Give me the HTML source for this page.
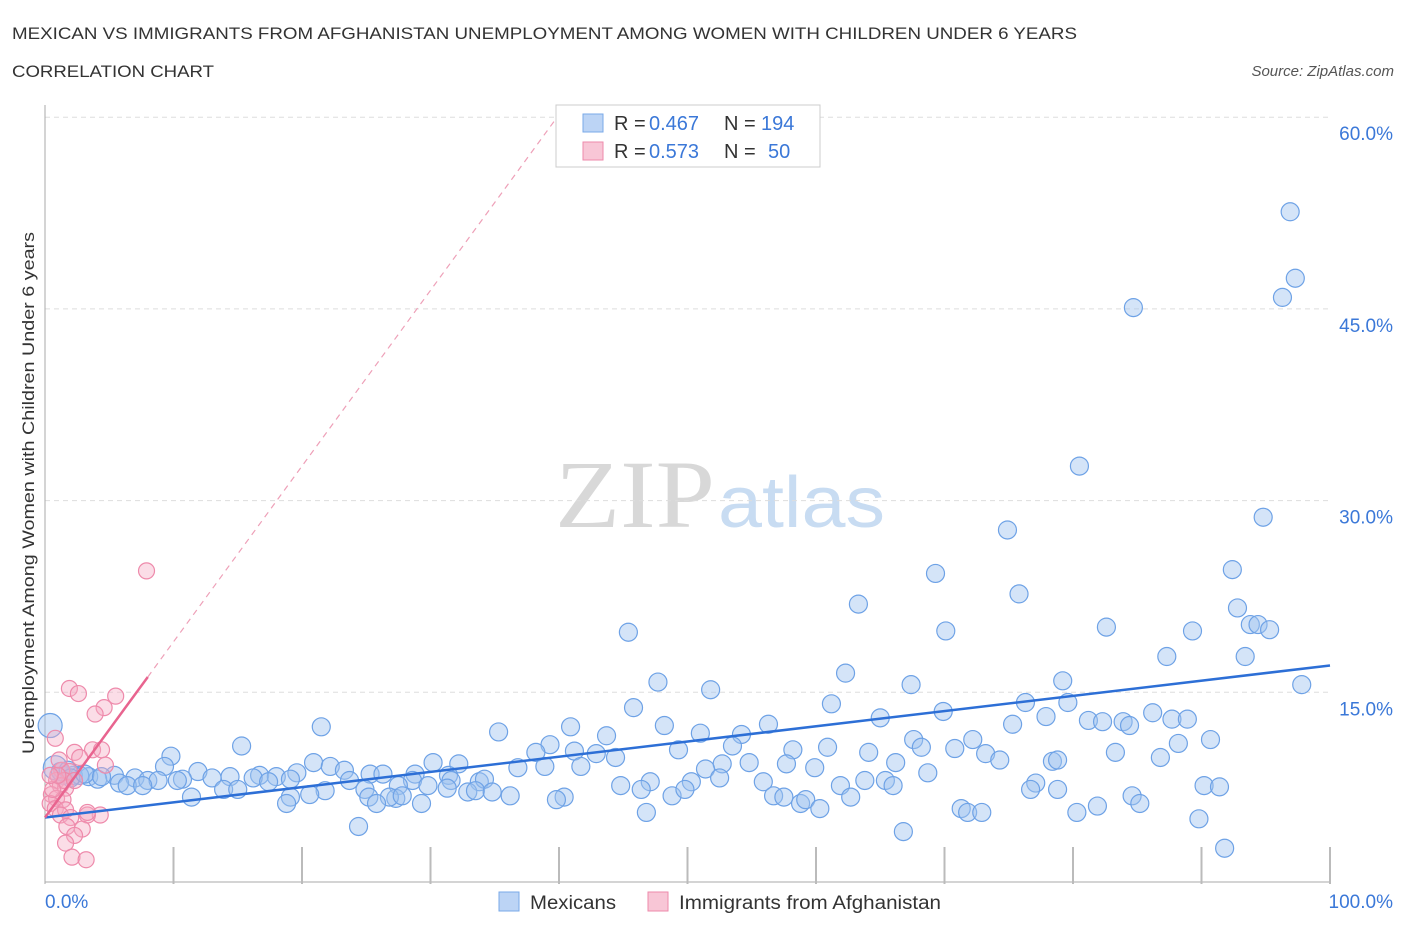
<!DOCTYPE html>
<html><head><meta charset="utf-8"><style>
body{margin:0;background:#fff;font-family:"Liberation Sans",sans-serif;}
svg{display:block}
</style></head><body>
<svg id="c" width="1406" height="930" xmlns="http://www.w3.org/2000/svg">
<text x="12" y="39" font-size="17" fill="#333" textLength="1065" lengthAdjust="spacingAndGlyphs">MEXICAN VS IMMIGRANTS FROM AFGHANISTAN UNEMPLOYMENT AMONG WOMEN WITH CHILDREN UNDER 6 YEARS</text>
<text x="12" y="77" font-size="17" fill="#333" textLength="202" lengthAdjust="spacingAndGlyphs">CORRELATION CHART</text>
<text x="1394" y="76" font-size="15" fill="#555" font-style="italic" text-anchor="end">Source: ZipAtlas.com</text>
<g><text x="555" y="527" font-size="96" font-family="Liberation Serif,serif" fill="#d8d8d8" textLength="160" lengthAdjust="spacingAndGlyphs">ZIP</text><text x="718" y="527" font-size="72" fill="#c8dcf2" textLength="167" lengthAdjust="spacingAndGlyphs">atlas</text></g>
<g id="grid"></g>
<g id="pts"></g>
<g id="lines"></g>
<text transform="translate(34,493) rotate(-90)" font-size="17" fill="#333" text-anchor="middle" textLength="522" lengthAdjust="spacingAndGlyphs">Unemployment Among Women with Children Under 6 years</text>
<g>
<rect x="556" y="105" width="264" height="62" fill="#fff" stroke="#ccc"/>
<rect x="583" y="114" width="20" height="18" fill="#bcd4f5" stroke="#7aaae8"/>
<text x="614" y="130" font-size="20" fill="#333">R =</text><text x="649" y="130" font-size="20" fill="#3b78d8">0.467</text>
<text x="724" y="130" font-size="20" fill="#333">N =</text><text x="761" y="130" font-size="20" fill="#3b78d8">194</text>
<rect x="583" y="142" width="20" height="18" fill="#f8c6d6" stroke="#ee8aab"/>
<text x="614" y="158" font-size="20" fill="#333">R =</text><text x="649" y="158" font-size="20" fill="#3b78d8">0.573</text>
<text x="724" y="158" font-size="20" fill="#333">N =</text><text x="768" y="158" font-size="20" fill="#3b78d8">50</text>
</g>
<g>
<rect x="499" y="892" width="20" height="19" fill="#bcd4f5" stroke="#7aaae8"/>
<text x="530" y="909" font-size="19" fill="#333" textLength="86" lengthAdjust="spacingAndGlyphs">Mexicans</text>
<rect x="648" y="892" width="20" height="19" fill="#f8c6d6" stroke="#ee8aab"/>
<text x="679" y="909" font-size="19" fill="#333" textLength="262" lengthAdjust="spacingAndGlyphs">Immigrants from Afghanistan</text>
</g>
</svg>
<script>
const yTicks=[15,30,45,60];
const xTickLabels=["0.0%","100.0%"];
const blueX=[96.9,97.3,96.3,84.7,80.5,74.9,94.8,69.3,92.4,75.8,63.3,92.8,45.4,70.1,82.6,89.3,93.8,94.4,95.3,87.3,93.4,62.3,47.7,79.2,97.8,51.8,67.4,45.8,61.2,76.3,79.6,69.9,86.2,77.9,65,87.7,88.9,75.3,81.2,82.3,83.9,84.4,48.2,40.9,21.5,35.3,56.3,51,43.7,54.2,67.6,72.2,90.7,39.3,15.3,53.5,88.2,68.2,60.9,70.8,38.2,41.2,42.9,49.3,58.2,64.1,83.3,9.8,44.4,73.2,74.3,78.4,78.8,86.8,52.7,54.8,57.7,66.2,30.2,32.2,20.9,9.3,22.2,36.8,38.9,41.7,59.9,23.3,51.4,11.9,19.6,25.3,26.3,28.8,31.4,68.7,16.7,18,14.4,13,16.2,10.7,7,5.4,3.4,2.2,1.4,2.7,4.1,5.8,8,8.8,10.3,6.4,7.6,17.4,19.1,28.6,23.7,27.5,31.6,33.8,34.2,29.8,31.3,52.5,47.1,50.3,55.9,63.8,65.4,77.1,61.9,44.8,66,90.2,91.4,76.7,78.8,84.6,46.4,13.9,15,21.8,24.9,32.9,33.5,34.8,36.2,19.1,11.4,20.6,25.2,27.3,26.8,27.8,40.4,48.8,49.8,56.7,57.5,62.7,39.8,58.8,18.8,25.8,29.3,59.2,60.3,81.9,85.2,71.3,71.8,72.9,80.3,46.8,24.4,66.8,89.8,91.8,0.4,0.8,1.2,1.8,2,3.1,4.4];
const blueY=[52.6,47.4,45.9,45.1,32.7,27.7,28.7,24.3,24.6,22.7,21.9,21.6,19.7,19.8,20.1,19.8,20.3,20.3,19.9,17.8,17.8,16.5,15.8,15.9,15.6,15.2,15.6,13.8,14.1,14.2,14.2,13.5,13.4,13.1,13,12.9,12.9,12.5,12.8,12.7,12.7,12.4,12.4,12.3,12.3,11.9,12.5,11.8,11.6,11.7,11.3,11.3,11.3,10.9,10.8,10.8,11,10.7,10.7,10.6,10.3,10.4,10.2,10.5,10.5,10.3,10.3,10,9.9,10.2,9.7,9.6,9.7,9.9,9.4,9.5,9.4,9.5,9.5,9.4,9.5,9.2,9.2,9.1,9.2,9.2,9.1,8.9,9,8.8,8.7,8.6,8.6,8.6,8.5,8.7,8.5,8.4,8.4,8.3,8.3,8.2,8.3,8.5,8.4,8.5,8.5,8.5,8.2,7.9,8.1,8.1,8.1,7.7,7.7,8,8.2,8.1,8.1,7.7,8.1,8,8.2,7.7,7.5,8.3,8,8,8,8.1,8.1,7.9,7.7,7.7,7.7,7.7,7.6,7.4,7.4,6.9,7.4,7.4,7.4,7.3,7.4,7.2,7.3,7.2,6.9,6.8,6.8,7,6.8,6.7,6.8,6.9,6.8,6.9,7.4,6.9,6.8,6.8,6.6,6.3,6.3,6.3,6.3,6.6,5.9,6.1,6.3,5.9,5.6,5.6,5.6,5.6,4.5,4.1,5.1,2.8,12.4,9.1,8.8,8.9,8.3,8.6,8.4];
const pinkX=[7.9,1.9,2.6,5.5,4.6,3.9,0.8,2.3,3.7,4.4,2.7,1.3,1.9,0.9,1.2,1.6,0.5,0.9,1.4,0.4,0.8,1.6,1.2,4.3,3.3,2,1.7,2.9,2.3,1.6,2.1,3.2,4.7,1.5,0.6,1,2.3,3.3,1.1,0.4];
const pinkY=[24.5,15.3,14.9,14.7,13.8,13.3,11.4,10.3,10.5,10.5,9.9,8.9,8.8,8.1,7.7,7.5,7,6.7,6.6,6.3,5.9,5.8,5.4,5.4,5.4,5.2,4.5,4.3,3.8,3.2,2.1,1.9,9.3,8.1,7.4,8.5,8.1,5.6,9.7,8.5];
const blueTrend=[5.2,17.1];
const pinkTrend=[5.2,16.2,8];
const X0=45,X1=1330,Y0=884,PY=12.78;
const sx=v=>X0+(X1-X0)*v/100, sy=v=>Y0-v*PY;
const NS="http://www.w3.org/2000/svg";
function mk(t,a,p){const e=document.createElementNS(NS,t);for(const k in a)e.setAttribute(k,a[k]);p.appendChild(e);return e;}
const grid=document.getElementById('grid');
yTicks.forEach(v=>{
 const l=mk('line',{x1:45,x2:1330,y1:sy(v),y2:sy(v),stroke:'#ddd','stroke-dasharray':'5,4'},grid);
 
 
 const t=mk('text',{x:1393,y:sy(v)+23,'font-size':19,fill:'#3b78d8','text-anchor':'end'},grid);t.textContent=v.toFixed(1)+'%';
 
 
});
const ax=mk('line',{x1:45,x2:45,y1:105,y2:884,stroke:'#aaa'},grid);


const bx=mk('line',{x1:45,x2:1330,y1:882,y2:882,stroke:'#aaa'},grid);


for(let i=1;i<=10;i++){const tk=mk('line',{x1:sx(i*10),x2:sx(i*10),y1:847,y2:884,stroke:'#bbb','stroke-width':2},grid);
 
 }
const t0=mk('text',{x:45,y:908,'font-size':19,fill:'#3b78d8'},grid);t0.textContent=xTickLabels[0];


const t1=mk('text',{x:1393,y:908,'font-size':19,fill:'#3b78d8','text-anchor':'end'},grid);t1.textContent=xTickLabels[1];


const pts=document.getElementById('pts');
blueX.forEach((x,i)=>{const c=mk('circle',{cx:sx(x),cy:sy(blueY[i]),r:i>=blueX.length-7&&i<blueX.length-5?12:9,fill:'rgba(160,196,240,0.45)',stroke:'#6ea2e6','stroke-width':1.2},pts);
 
 });
pinkX.forEach((x,i)=>{const c=mk('circle',{cx:sx(x),cy:sy(pinkY[i]),r:8,fill:'rgba(245,170,195,0.4)',stroke:'#ee8aab','stroke-width':1.2},pts);
 
 });
const lines=document.getElementById('lines');
const bl=mk('line',{x1:sx(0),y1:sy(blueTrend[0]),x2:sx(100),y2:sy(blueTrend[1]),stroke:'#2d6fd6','stroke-width':2.5},lines);


const slope=(pinkTrend[1]-pinkTrend[0])/pinkTrend[2];
const pl=mk('line',{x1:sx(0),y1:sy(pinkTrend[0]),x2:sx(pinkTrend[2]),y2:sy(pinkTrend[1]),stroke:'#e8648f','stroke-width':2.5},lines);


const xe=(60.2-pinkTrend[0])/slope;
const pd=mk('line',{x1:sx(pinkTrend[2]),y1:sy(pinkTrend[1]),x2:sx(xe),y2:sy(60.2),stroke:'#eea0b8','stroke-width':1.2,'stroke-dasharray':'6,5'},lines);


</script>
</body></html>
